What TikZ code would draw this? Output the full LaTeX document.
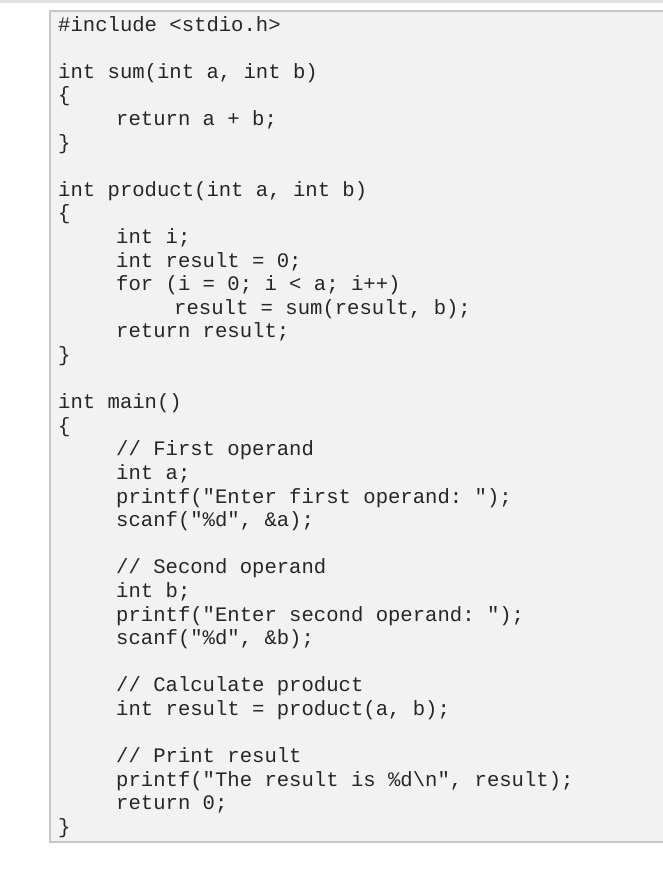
\documentclass[tikz,border=0pt]{standalone}
\usepackage{fontspec}
\setmonofont{Liberation Mono}
\begin{document}
\begin{tikzpicture}[x=1pt,y=1pt,
  code/.style={anchor=mid west,inner sep=0pt,font=\ttfamily\fontsize{20.6}{24}\selectfont,text=black!85}]
\useasboundingbox (0,0) rectangle (663,888);
\fill[black!12] (0,888) rectangle (663,885);
\draw[fill=black!5,draw=black!22,line width=1.2pt] (50,888-11) -- (50,888-842) -- (664,888-842) -- (664,888-11) -- cycle;
\foreach \i/\x/\t in {
0/58/{\#include <stdio.h>},
2/58/{int sum(int a, int b)},
3/58/{\{},
4/116/{return a + b;},
5/58/{\}},
7/58/{int product(int a, int b)},
8/58/{\{},
9/116/{int i;},
10/116/{int result = 0;},
11/116/{for (i = 0; i < a; i++)},
12/174/{result = sum(result, b);},
13/116/{return result;},
14/58/{\}},
16/58/{int main()},
17/58/{\{},
18/116/{// First operand},
19/116/{int a;},
20/116/{printf("Enter first operand: ");},
21/116/{scanf("\%d", \&a);},
23/116/{// Second operand},
24/116/{int b;},
25/116/{printf("Enter second operand: ");},
26/116/{scanf("\%d", \&b);},
28/116/{// Calculate product},
29/116/{int result = product(a, b);},
31/116/{// Print result},
32/116/{printf("The result is \%d\textbackslash n", result);},
33/116/{return 0;},
34/58/{\}}}
  \node[code] (l\i) at (\x, 888-29-23.6*\i) {\t};
\end{tikzpicture}
\end{document}
